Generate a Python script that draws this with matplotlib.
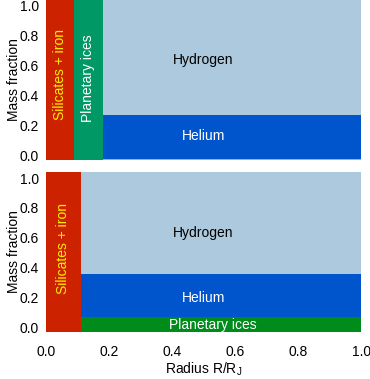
import matplotlib
matplotlib.use("Agg")
import matplotlib.pyplot as plt

plt.rcParams['font.family'] = ['Liberation Sans', 'DejaVu Sans']

# panel 1: core of silicates+iron, then planetary ices shell, then H/He envelope
top_core_r = 0.09
top_ice_r = 0.18
top_env_ice = 0.008
top_helium = 0.27

# panel 2: silicates+iron core, then envelope with ices mixed in
bot_core_r = 0.11
bot_env_ice = 0.07
bot_helium = 0.36

ticks = [0.0, 0.2, 0.4, 0.6, 0.8, 1.0]
tick_labels = ['0.0', '0.2', '0.4', '0.6', '0.8', '1.0']

c_hydrogen = '#adc9dd'
c_helium = '#0055cc'
c_silicates = '#cc2200'
c_ice_shell = '#009966'
c_ice_env = '#008c1a'
c_ice_line = '#33ff44'

ylo, yhi = -0.03, 1.04
fs = 10

fig = plt.figure(figsize=(3.7, 3.79), dpi=100)
ax1 = fig.add_axes([0.124, 0.578, 0.852, 0.422])
ax2 = fig.add_axes([0.124, 0.124, 0.852, 0.422])

for ax in (ax1, ax2):
    ax.set_xlim(0, 1)
    ax.set_ylim(ylo, yhi)
    ax.set_yticks(ticks)
    ax.set_yticklabels(tick_labels)
    ax.set_xticks(ticks)
    ax.tick_params(length=0, labelsize=fs, pad=5)
    ax.tick_params(axis='x', pad=9)
    for s in ax.spines.values():
        s.set_visible(False)
    ax.set_ylabel('Mass fraction', fontsize=fs)
    ax.yaxis.set_label_coords(-0.08, 0.5)

# top panel
ax1.fill_between([top_ice_r, 1], ylo, yhi, color=c_hydrogen, lw=0)
ax1.fill_between([top_ice_r, 1], ylo, top_helium, color=c_helium, lw=0)
ax1.fill_between([top_ice_r, 1], ylo, ylo + top_env_ice, color=c_ice_line, lw=0)
ax1.fill_between([0, top_core_r], ylo, yhi, color=c_silicates, lw=0)
ax1.fill_between([top_core_r, top_ice_r], ylo, yhi, color=c_ice_shell, lw=0)
ax1.set_xticklabels([])
ax1.text(top_core_r / 2, 0.54, 'Silicates + iron', rotation=90, color='#ffee00',
         ha='center', va='center', fontsize=fs)
ax1.text((top_core_r + top_ice_r) / 2, 0.52, 'Planetary ices', rotation=90, color='white',
         ha='center', va='center', fontsize=fs)
ax1.text(0.5, 0.64, 'Hydrogen', color='black', ha='center', va='center', fontsize=fs)
ax1.text(0.5, 0.13, 'Helium', color='white', ha='center', va='center', fontsize=fs)

# bottom panel
ax2.fill_between([bot_core_r, 1], ylo, yhi, color=c_hydrogen, lw=0)
ax2.fill_between([bot_core_r, 1], ylo, bot_helium, color=c_helium, lw=0)
ax2.fill_between([bot_core_r, 1], ylo, bot_env_ice, color=c_ice_env, lw=0)
ax2.fill_between([0, bot_core_r], ylo, yhi, color=c_silicates, lw=0)
ax2.set_xticklabels(tick_labels)
ax2.text(bot_core_r / 2, 0.53, 'Silicates + iron', rotation=90, color='#ffee00',
         ha='center', va='center', fontsize=fs)
ax2.text(0.5, 0.63, 'Hydrogen', color='black', ha='center', va='center', fontsize=fs)
ax2.text(0.5, 0.2, 'Helium', color='white', ha='center', va='center', fontsize=fs)
ax2.text(0.53, 0.02, 'Planetary ices', color='white', ha='center', va='center', fontsize=fs)
ax2.set_xlabel('Radius R/R$_\\mathregular{J}$', fontsize=fs)
ax2.xaxis.set_label_coords(0.5, -0.18)

fig.savefig('out.png', dpi=100)
